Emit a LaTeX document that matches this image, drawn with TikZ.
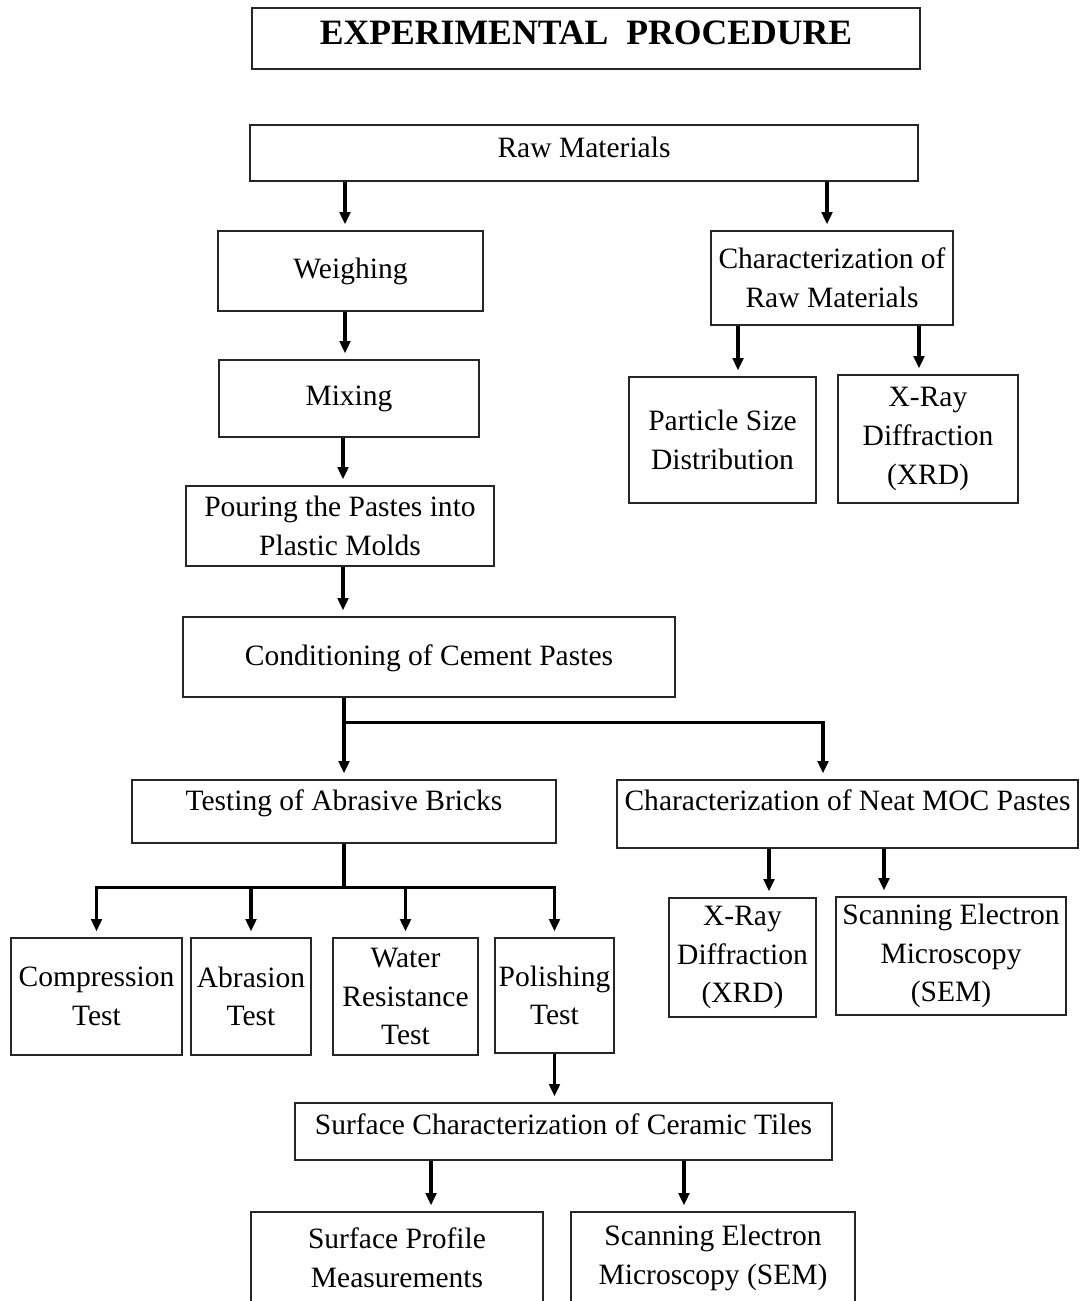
\documentclass[tikz,border=0pt]{standalone}
\usepackage{fontspec}
\setmainfont{Liberation Serif}
\usetikzlibrary{arrows.meta,positioning}
\newcommand{\stepfont}{\fontsize{16.8}{22}\selectfont}
\tikzset{
  box/.style={draw=black!85, line width=0.7pt, align=center, inner sep=0pt, font=\stepfont},
  raised/.style={text height=0.38cm, text depth=#1},
  flow/.style={-{Triangle[length=7pt,width=6pt]}, line width=1.8pt, shorten >=0.12cm},
  branch/.style={flow, line width=2.1pt},
}

\begin{document}
\begin{tikzpicture}[x=0.02cm,y=-0.02cm]
        \clip (0,0) rectangle (1080,1301);
        \path
        (586,38.5) node[box, minimum width=13.36cm, minimum height=1.22cm, raised=0.26cm, text height=0.5cm,
          font=\bfseries\fontsize{20.3}{24}\selectfont](title) {EXPERIMENTAL\ \ PROCEDURE}
        (584,153) node[box, minimum width=13.36cm, minimum height=1.12cm, raised=0.2cm](raw) {Raw Materials}
        (350.5,271) node[box, minimum width=5.3cm, minimum height=1.6cm](weigh) {Weighing}
        (349,398.5) node[box, minimum width=5.2cm, minimum height=1.54cm](mix) {Mixing}
        (340,526) node[box, minimum width=6.16cm, minimum height=1.6cm](pour) {Pouring the Pastes into\\Plastic Molds}
        (429,657) node[box, minimum width=9.84cm, minimum height=1.6cm, raised=0.06cm](cond) {Conditioning of Cement Pastes}
        (832,278) node[box, minimum width=4.84cm, minimum height=1.88cm](charraw) {Characterization of\\Raw Materials}
        (722.5,440) node[box, minimum width=3.74cm, minimum height=2.52cm](particle) {Particle Size\\Distribution}
        (928,439) node[box, minimum width=3.6cm, minimum height=2.56cm](xrdraw) {X-Ray\\Diffraction\\(XRD)}
        (344,811.5) node[box, minimum width=8.48cm, minimum height=1.26cm, raised=0.44cm](testing) {Testing of Abrasive Bricks}
        (847.5,814) node[box, minimum width=9.22cm, minimum height=1.36cm, raised=0.52cm](charneat) {Characterization of Neat MOC Pastes}
        (96.5,996.5) node[box, minimum width=3.42cm, minimum height=2.34cm](comp) {Compression\\Test}
        (251,996.5) node[box, minimum width=2.4cm, minimum height=2.34cm](abr) {Abrasion\\Test}
        (405.5,996.5) node[box, minimum width=2.9cm, minimum height=2.34cm](water) {Water\\Resistance\\Test}
        (554.5,995.5) node[box, minimum width=2.38cm, minimum height=2.3cm](polish) {Polishing\\Test}
        (742.5,957.5) node[box, minimum width=2.94cm, minimum height=2.38cm](xrdneat) {X-Ray\\Diffraction\\(XRD)}
        (951,956) node[box, minimum width=4.6cm, minimum height=2.36cm](semneat) {Scanning Electron\\Microscopy\\(SEM)}
        (563.5,1131.5) node[box, minimum width=10.74cm, minimum height=1.14cm, raised=0.26cm](surf) {Surface Characterization of Ceramic Tiles}
        (397,1258) node[box, minimum width=5.84cm, minimum height=1.84cm](profile) {Surface Profile\\Measurements}
        (713,1258) node[box, minimum width=5.68cm, minimum height=1.84cm](semtile) {Scanning Electron\\Microscopy (SEM)}
        ;

        % preparation
        \draw[flow] ([xshift=-0.11cm]raw.south -| weigh.north) -- ([xshift=-0.11cm]weigh.north);
        \draw[flow] ([xshift=-0.1cm]raw.south -| charraw.north) -- ([xshift=-0.1cm]charraw.north);
        \draw[flow] ([xshift=-0.11cm]weigh.south) -- ([xshift=-0.11cm]weigh.south |- mix.north);
        \draw[flow] ([xshift=0.06cm]pour.north |- mix.south) -- ([xshift=0.06cm]pour.north);
        \draw[flow] ([xshift=0.06cm]pour.south) -- ([xshift=0.06cm]pour.south |- cond.north);

        % raw material characterization
        \draw[flow] ([xshift=-1.88cm]charraw.south) -- ([xshift=-1.88cm]charraw.south |- particle.north);
        \draw[flow] ([xshift=1.74cm]charraw.south) -- ([xshift=1.74cm]charraw.south |- xrdraw.north);

        % split after conditioning
        \coordinate (split) at ([yshift=-0.5cm]testing.north |- cond.south);
        \draw[branch] (testing.north |- cond.south) -- (testing.north);
        \draw[branch] (split) -| ([xshift=-0.49cm]charneat.north);

        % tests
        \coordinate (fork) at ([yshift=-0.88cm]testing.south);
        \draw[branch] (testing.south) -- (fork) -| (comp.north);
        \draw[branch] (fork) -| (polish.north);
        \draw[flow] (abr.north |- fork) -- (abr.north);
        \draw[flow] (water.north |- fork) -- (water.north);

        % neat paste characterization
        \draw[flow] ([xshift=-1.57cm]charneat.south) -- ([xshift=-1.57cm]charneat.south |- xrdneat.north);
        \draw[flow] ([xshift=0.73cm]charneat.south) -- ([xshift=0.73cm]charneat.south |- semneat.north);

        % tiles
        \draw[flow] (polish.south) -- (polish.south |- surf.north);
        \draw[flow] ([xshift=-2.65cm]surf.south) -- ([xshift=-2.65cm]surf.south |- profile.north);
        \draw[flow] ([xshift=2.41cm]surf.south) -- ([xshift=2.41cm]surf.south |- semtile.north);
      \end{tikzpicture}
\end{document}
